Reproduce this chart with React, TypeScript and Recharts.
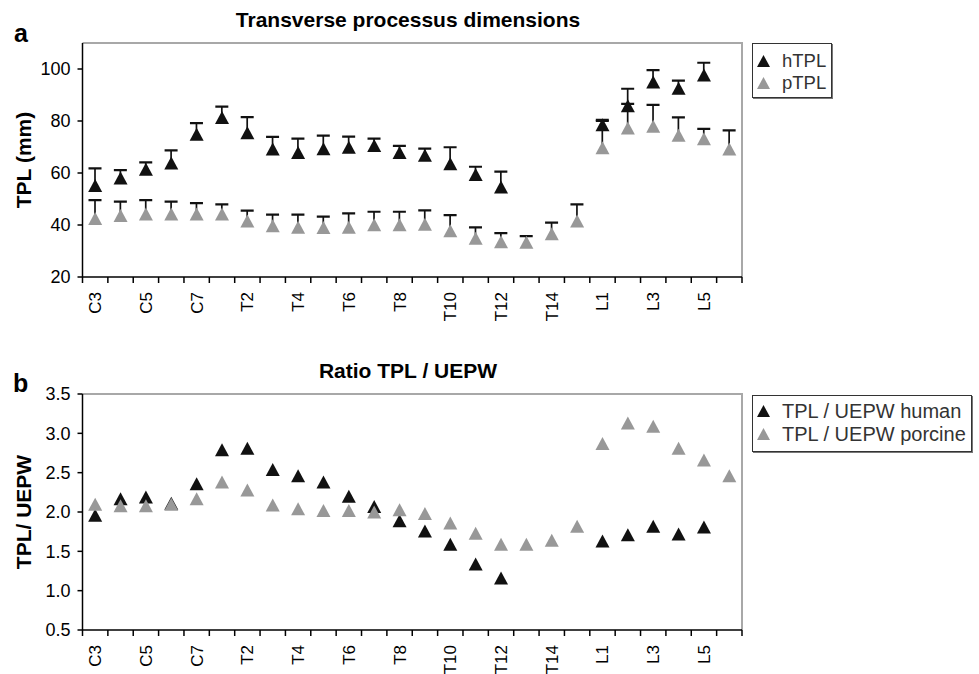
import React from 'react';
import { ComposedChart, Line, Bar, XAxis, YAxis, Legend, ReferenceArea } from 'recharts';

const categories = ['C3','C4','C5','C6','C7','T1','T2','T3','T4','T5','T6','T7','T8','T9','T10','T11','T12','T13','T14','T15','L1','L2','L3','L4','L5','L6'];

const hTPL = [55.2, 58.1, 61.4, 63.8, 74.9, 81.3, 75.5, 69.2, 67.9, 69.3, 69.9, 70.6, 67.9, 66.8, 63.6, 59.4, 54.6, null, null, null, 78.6, 85.9, 95.0, 92.6, 97.7, null];
const hTPLErr = [6.6, 3.0, 2.7, 4.9, 4.3, 4.2, 6.0, 4.7, 5.3, 5.1, 4.1, 2.6, 2.5, 2.6, 6.3, 3.0, 5.9, null, null, null, 1.8, 6.5, 4.6, 2.9, 4.7, null];
const pTPL = [42.5, 43.7, 44.2, 44.2, 44.2, 44.2, 41.5, 39.7, 39.1, 39.0, 39.1, 40.1, 40.1, 40.3, 37.8, 34.9, 33.6, 33.4, 36.6, 41.5, 69.7, 77.3, 78.0, 74.5, 73.2, 69.2];
const pTPLErr = [7.1, 5.3, 5.4, 4.8, 4.2, 3.7, 4.0, 4.3, 4.9, 4.2, 5.4, 5.0, 5.0, 5.3, 6.0, 4.2, 3.3, 2.3, 4.3, 6.4, 10.3, 9.3, 8.2, 6.9, 3.8, 7.2];

const ratioHuman = [1.96, 2.17, 2.19, 2.11, 2.36, 2.79, 2.81, 2.54, 2.46, 2.38, 2.20, 2.07, 1.89, 1.76, 1.59, 1.34, 1.16, null, null, null, 1.63, 1.71, 1.82, 1.72, 1.81, null];
const ratioPorcine = [2.10, 2.08, 2.08, 2.10, 2.17, 2.38, 2.28, 2.09, 2.04, 2.02, 2.02, 2.00, 2.03, 1.98, 1.86, 1.73, 1.59, 1.59, 1.64, 1.82, 2.87, 3.13, 3.09, 2.81, 2.66, 2.46];

const tplDomain = [20, 110];
const tplTicks = [20, 40, 60, 80, 100];
const ratioDomain = [0.5, 3.5];
const ratioTicks = [0.5, 1.0, 1.5, 2.0, 2.5, 3.0, 3.5];

const FONT = '"Liberation Sans", Arial, Helvetica, sans-serif';
const BLACK = '#111111';
const GREY = '#989898';
const FRAME = '#a8a8a8';

const tplData = categories.map((cat, i) => ({
  cat,
  h: hTPL[i],
  p: pTPL[i],
  hRange: hTPL[i] == null || hTPLErr[i] == null ? null : [hTPL[i], hTPL[i] + hTPLErr[i]],
  pRange: pTPL[i] == null || pTPLErr[i] == null ? null : [pTPL[i], pTPL[i] + pTPLErr[i]],
}));

const ratioData = categories.map((cat, i) => ({
  cat,
  human: ratioHuman[i],
  porcine: ratioPorcine[i],
}));

const makeTriangle = (fill: string) => (props: any) => {
  const { cx, cy, index, value } = props;
  if (value == null || cx == null || cy == null || !isFinite(cx) || !isFinite(cy)) {
    return <g key={`t-${index}`} />;
  }
  return (
    <path
      key={`t-${index}`}
      d={`M${cx},${cy - 6.5}L${cx + 7},${cy + 6.5}L${cx - 7},${cy + 6.5}Z`}
      fill={fill}
    />
  );
};

const ErrorShape = (props: any) => {
  const { x, y, width, height } = props;
  if (x == null || y == null || height == null || !isFinite(y) || !isFinite(height) || height === 0) {
    return <g />;
  }
  const cx = x + width / 2;
  const top = Math.min(y, y + height);
  const bottom = Math.max(y, y + height);
  return (
    <g>
      <line x1={cx} x2={cx} y1={top} y2={bottom} stroke={BLACK} strokeWidth={1.7} />
      <line x1={cx - 6.5} x2={cx + 6.5} y1={top} y2={top} stroke={BLACK} strokeWidth={2.2} />
    </g>
  );
};

const FrameShape = (props: any) => {
  const { x, y, width, height } = props;
  if (x == null || y == null) return <g />;
  return (
    <path
      d={`M${x},${y}H${x + width}V${y + height}`}
      fill="none"
      stroke={FRAME}
      strokeWidth={2}
    />
  );
};

const TICK_SIZE = 6;
const TICK_MARGIN = 9;

const XTick = (props: any) => {
  const { x, y, payload, index } = props;
  const idx = index != null ? index : payload?.index;
  const half = payload && payload.offset != null ? payload.offset : 0;
  const axisY = y - TICK_SIZE - TICK_MARGIN;
  const last = idx === categories.length - 1;
  return (
    <g>
      <line x1={x - half} x2={x - half} y1={axisY} y2={axisY + TICK_SIZE} stroke="#000" strokeWidth={1.5} />
      {last && <line x1={x + half} x2={x + half} y1={axisY} y2={axisY + TICK_SIZE} stroke="#000" strokeWidth={1.5} />}
      {idx % 2 === 0 && (
        <text
          x={x}
          y={y}
          transform={`rotate(-90, ${x}, ${y})`}
          textAnchor="end"
          dy="0.35em"
          fontSize={17}
          fontFamily={FONT}
          fill="#000"
        >
          {payload.value}
        </text>
      )}
    </g>
  );
};

const makeLegend = (opts: { width: number; height: number; fontSize: number; lineHeight: number; padTop: number }) =>
  (props: any) => {
    const items = (props.payload || []).filter((p: any) => p.type !== 'none');
    return (
      <div
        style={{
          boxSizing: 'border-box',
          width: opts.width,
          height: opts.height,
          border: '1px solid #333',
          boxShadow: '1px 1px 0 #777',
          background: '#fff',
          paddingTop: opts.padTop,
          paddingLeft: 4,
          fontFamily: FONT,
          fontSize: opts.fontSize,
          lineHeight: `${opts.lineHeight}px`,
          color: '#333',
          whiteSpace: 'nowrap',
        }}
      >
        {items.map((p: any, i: number) => (
          <div key={i} style={{ display: 'flex', alignItems: 'center', height: opts.lineHeight }}>
            <svg width={13} height={12} style={{ marginRight: 12, flex: 'none' }}>
              <path d="M6.5 0L13 12L0 12Z" fill={p.color} />
            </svg>
            <span>{p.value}</span>
          </div>
        ))}
      </div>
    );
  };

const absText = (extra: React.CSSProperties): React.CSSProperties => ({
  position: 'absolute',
  fontFamily: FONT,
  color: '#000',
  whiteSpace: 'nowrap',
  ...extra,
});

const yTickStyle = { fontSize: 18, fill: '#000', fontFamily: FONT };

export default function App() {
  return (
    <div style={{ position: 'absolute', left: 0, top: 0, width: 979, height: 674, background: '#fff', overflow: 'hidden' }}>
      {/* Panel a */}
      <div style={{ position: 'absolute', left: 0, top: 0 }}>
        <ComposedChart
          width={979}
          height={330}
          data={tplData}
          margin={{ top: 43, right: 237, bottom: 8, left: 22.5 }}
          barGap={-15}
        >
          <ReferenceArea y1={tplDomain[1]} y2={tplDomain[0]} shape={FrameShape} ifOverflow="visible" />
          <XAxis
            dataKey="cat"
            type="category"
            scale="band"
            interval={0}
            height={45}
            tickSize={TICK_SIZE}
            tickMargin={TICK_MARGIN}
            tickLine={false}
            axisLine={{ stroke: '#000', strokeWidth: 1.5 }}
            tick={<XTick />}
          />
          <YAxis
            type="number"
            domain={tplDomain}
            ticks={tplTicks}
            interval={0}
            width={60}
            tickSize={5}
            tickMargin={7}
            allowDataOverflow
            tick={yTickStyle}
            axisLine={{ stroke: '#000', strokeWidth: 1.5 }}
            tickLine={{ stroke: '#000', strokeWidth: 1.5 }}
          />
          <Bar dataKey={(d: any) => d.hRange} barSize={15} shape={ErrorShape} legendType="none" isAnimationActive={false} name="hErr" />
          <Bar dataKey={(d: any) => d.pRange} barSize={15} shape={ErrorShape} legendType="none" isAnimationActive={false} name="pErr" />
          <Line dataKey="h" name="hTPL" stroke={BLACK} strokeOpacity={0} dot={makeTriangle(BLACK)} activeDot={false} isAnimationActive={false} />
          <Line dataKey="p" name="pTPL" stroke={GREY} strokeOpacity={0} dot={makeTriangle(GREY)} activeDot={false} isAnimationActive={false} />
          <Legend
            layout="horizontal"
            align="center"
            verticalAlign="middle"
            wrapperStyle={{ left: 752, top: 43, width: 80 }}
            content={makeLegend({ width: 80, height: 55, fontSize: 18.5, lineHeight: 22, padTop: 5.5 })}
          />
        </ComposedChart>
      </div>

      {/* Panel b */}
      <div style={{ position: 'absolute', left: 0, top: 340 }}>
        <ComposedChart
          width={979}
          height={334}
          data={ratioData}
          margin={{ top: 54, right: 237, bottom: 4, left: 22.5 }}
        >
          <ReferenceArea y1={ratioDomain[1]} y2={ratioDomain[0]} shape={FrameShape} ifOverflow="visible" />
          <XAxis
            dataKey="cat"
            type="category"
            scale="band"
            interval={0}
            height={40}
            tickSize={TICK_SIZE}
            tickMargin={TICK_MARGIN}
            tickLine={false}
            axisLine={{ stroke: '#000', strokeWidth: 1.5 }}
            tick={<XTick />}
          />
          <YAxis
            type="number"
            domain={ratioDomain}
            ticks={ratioTicks}
            interval={0}
            width={60}
            tickSize={5}
            tickMargin={7}
            allowDataOverflow
            tickFormatter={(v: number) => v.toFixed(1)}
            tick={yTickStyle}
            axisLine={{ stroke: '#000', strokeWidth: 1.5 }}
            tickLine={{ stroke: '#000', strokeWidth: 1.5 }}
          />
          <Line dataKey="human" name="TPL / UEPW human" stroke={BLACK} strokeOpacity={0} dot={makeTriangle(BLACK)} activeDot={false} isAnimationActive={false} />
          <Line dataKey="porcine" name="TPL / UEPW porcine" stroke={GREY} strokeOpacity={0} dot={makeTriangle(GREY)} activeDot={false} isAnimationActive={false} />
          <Legend
            layout="horizontal"
            align="center"
            verticalAlign="middle"
            wrapperStyle={{ left: 752, top: 55, width: 220 }}
            content={makeLegend({ width: 220, height: 57, fontSize: 20, lineHeight: 23.3, padTop: 3.5 })}
          />
        </ComposedChart>
      </div>

      {/* Titles and labels */}
      <div style={absText({ left: 0, width: 816, top: 8, textAlign: 'center', fontSize: 21, fontWeight: 'bold', lineHeight: '24px' })}>
        Transverse processus dimensions
      </div>
      <div style={absText({ left: 0, width: 816, top: 359, textAlign: 'center', fontSize: 21, fontWeight: 'bold', lineHeight: '24px' })}>
        Ratio TPL / UEPW
      </div>
      <div style={absText({ left: 14, top: 18, fontSize: 25, fontWeight: 'bold', lineHeight: '30px' })}>a</div>
      <div style={absText({ left: 13, top: 368, fontSize: 25, fontWeight: 'bold', lineHeight: '30px' })}>b</div>
      <div
        style={absText({
          left: 24 - 70, top: 160 - 12, width: 140, textAlign: 'center', fontSize: 21, fontWeight: 'bold', lineHeight: '24px',
          transform: 'rotate(-90deg)', transformOrigin: '50% 50%',
        })}
      >
        TPL (mm)
      </div>
      <div
        style={absText({
          left: 24 - 70, top: 512 - 12, width: 140, textAlign: 'center', fontSize: 21, fontWeight: 'bold', lineHeight: '24px',
          transform: 'rotate(-90deg)', transformOrigin: '50% 50%',
        })}
      >
        TPL/ UEPW
      </div>
    </div>
  );
}
